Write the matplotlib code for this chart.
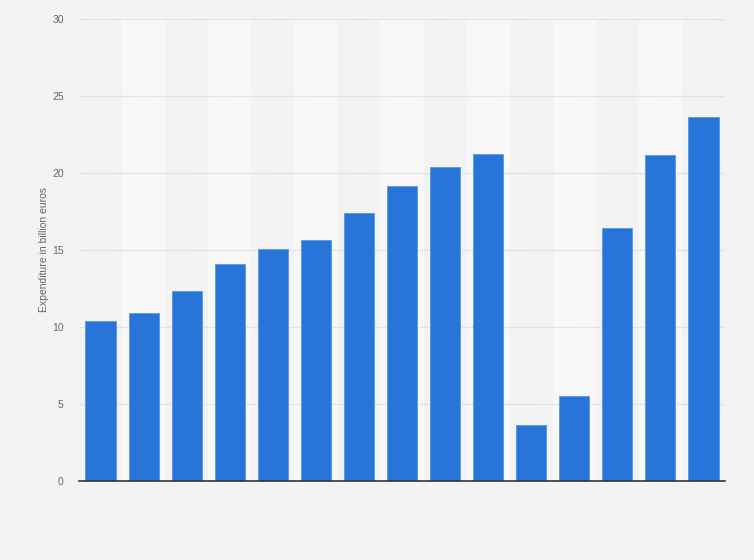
import matplotlib
matplotlib.use("Agg")
import matplotlib.pyplot as plt
import numpy as np

plt.rcParams["font.family"] = ["Liberation Sans", "DejaVu Sans"]

categories = [str(i) for i in range(1, 16)]
values = [10.39, 10.93, 12.34, 14.12, 15.09, 15.67, 17.43, 19.16, 20.42, 21.26,
          3.66, 5.55, 16.45, 21.19, 23.66]
y_ticks = [0, 5, 10, 15, 20, 25, 30]
y_label = "Expenditure in billion euros"

bg = "#f3f3f3"
fig = plt.figure(figsize=(7.54, 5.60), dpi=100, facecolor=bg)
ax = fig.add_axes([79/754, 1-481/560, (725-79)/754, (481-19)/560])
ax.set_facecolor(bg)

x = np.arange(len(categories))
for i in x:
    if i % 2 == 1:
        ax.axvspan(i - 0.5, i + 0.5, color="#f8f8f8", zorder=0, lw=0)

ax.bar(x, values, width=0.7, color="#2775d9", edgecolor="#5a95e3", linewidth=0.6, zorder=3)

ax.set_xlim(-0.5, len(categories) - 0.5)
ax.set_ylim(0, 30)
ax.set_yticks(y_ticks)
ax.set_yticklabels([str(t) for t in y_ticks])
ax.set_xticks([])
ax.yaxis.grid(True, color="#d2d2d2", linestyle=(0, (1, 1)), linewidth=0.9, zorder=1)
ax.set_axisbelow(True)
ax.tick_params(axis="y", length=0, pad=11, labelsize=7.5, labelcolor="#666666")
for s in ["top", "right", "left"]:
    ax.spines[s].set_visible(False)
ax.spines["bottom"].set_color("#333333")
ax.spines["bottom"].set_linewidth(1.2)
ax.spines["bottom"].set_zorder(5)
ax.set_ylabel(y_label, fontsize=7.5, color="#666666", labelpad=2)

fig.savefig("out.png", dpi=100, facecolor=bg)
